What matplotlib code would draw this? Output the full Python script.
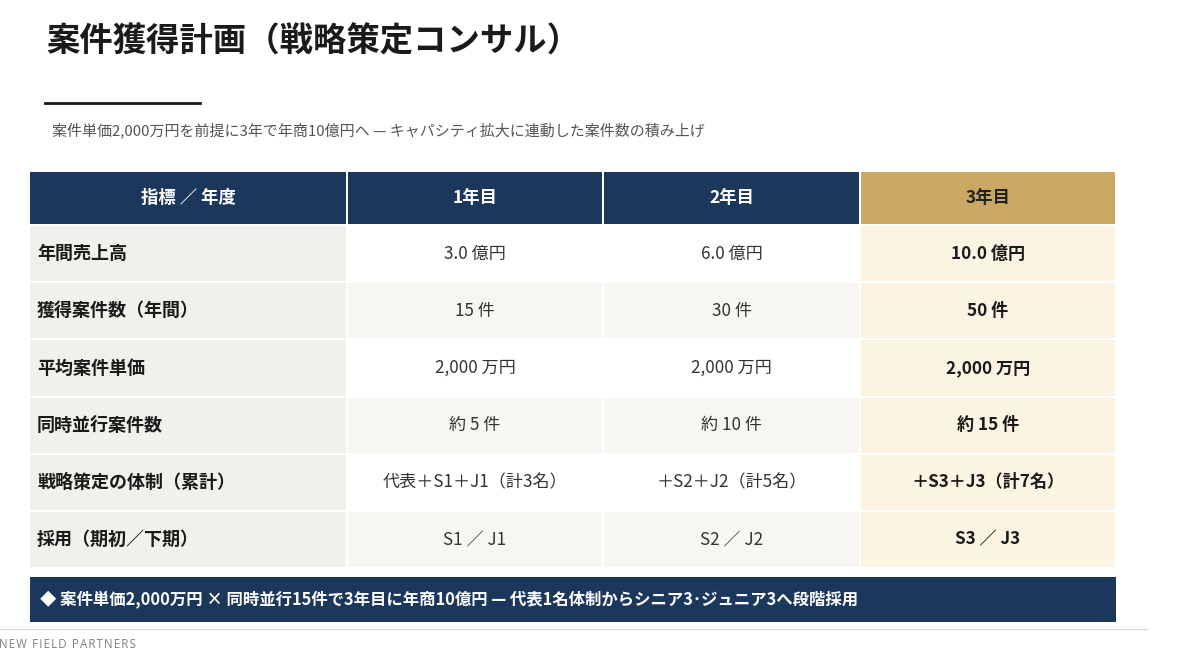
import matplotlib
matplotlib.use("Agg")
import matplotlib.pyplot as plt
from matplotlib.patches import Rectangle

plt.rcParams["font.family"] = ["Noto Sans CJK JP", "DejaVu Sans"]

# --- data ---
years = ["1年目", "2年目", "3年目"]
metrics = ["年間売上高", "獲得案件数（年間）", "平均案件単価", "同時並行案件数",
           "戦略策定の体制（累計）", "採用（期初／下期）"]
revenue_oku = [3.0, 6.0, 10.0]
deals_per_year = [15, 30, 50]
unit_price_man = [2000, 2000, 2000]
concurrent_deals = [5, 10, 15]
team = ["代表＋S1＋J1（計3名）", "＋S2＋J2（計5名）", "＋S3＋J3（計7名）"]
hiring = ["S1 ／ J1", "S2 ／ J2", "S3 ／ J3"]

rows = [
    [f"{v:.1f} 億円" for v in revenue_oku],
    [f"{v} 件" for v in deals_per_year],
    [f"{v:,} 万円" for v in unit_price_man],
    [f"約 {v} 件" for v in concurrent_deals],
    team,
    hiring,
]

title = "案件獲得計画（戦略策定コンサル）"
subtitle = "案件単価2,000万円を前提に3年で年商10億円へ — キャパシティ拡大に連動した案件数の積み上げ"
banner = "◆ 案件単価2,000万円 × 同時並行15件で3年目に年商10億円 — 代表1名体制からシニア3･ジュニア3へ段階採用"
footer = "NEW FIELD PARTNERS"

NAVY = "#1c375c"
GOLD = "#c8a862"
LABEL_BG = "#f2f0eb"
ALT_BG = "#f7f6f3"
HL_BG = "#fcf3e2"
TEXT = "#333333"

W, H = 1200, 659
fig = plt.figure(figsize=(W / 100, H / 100), dpi=100)
ax = fig.add_axes([0, 0, 1, 1])
ax.set_xlim(0, W)
ax.set_ylim(H, 0)
ax.axis("off")

# title block
ax.text(46, 42, title, fontsize=24, fontweight="bold", color="#1a1a1a", va="center", ha="left")
ax.plot([45, 200], [103, 103], color="#1a1a1a", lw=2)
ax.text(52, 130, subtitle, fontsize=10.8, color="#555555", va="center", ha="left")

# table geometry
col_edges = [30, 348, 604, 861, 1117]
gap = 2
head_top, head_bot = 172, 224
row_top = 226
row_h = 57.2

headers = ["指標 ／ 年度"] + years
for j, htxt in enumerate(headers):
    x0, x1 = col_edges[j], col_edges[j + 1]
    fc = GOLD if j == 3 else NAVY
    ax.add_patch(Rectangle((x0, head_top), x1 - x0 - gap, head_bot - head_top, fc=fc, ec="none"))
    ax.text((x0 + x1 - gap) / 2, (head_top + head_bot) / 2, htxt, fontsize=12.5, fontweight="bold",
            color="#222222" if j == 3 else "white", ha="center", va="center")

for i, (label, vals) in enumerate(zip(metrics, rows)):
    y0 = row_top + i * row_h
    hgt = row_h - gap
    yc = y0 + hgt / 2
    ax.add_patch(Rectangle((col_edges[0], y0), col_edges[1] - col_edges[0] - gap, hgt, fc=LABEL_BG, ec="none"))
    ax.text(col_edges[0] + 7, yc, label, fontsize=13, fontweight="bold", color="#1a1a1a",
            ha="left", va="center")
    for j, v in enumerate(vals):
        x0, x1 = col_edges[j + 1], col_edges[j + 2]
        if j == 2:
            fc = HL_BG
        else:
            fc = ALT_BG if i % 2 else "white"
        ax.add_patch(Rectangle((x0, y0), x1 - x0 - gap, hgt, fc=fc, ec="none"))
        ax.text((x0 + x1 - gap) / 2, yc, v, fontsize=12.3,
                fontweight="bold" if j == 2 else "normal",
                color="#1a1a1a" if j == 2 else TEXT, ha="center", va="center")

# bottom banner
ax.add_patch(Rectangle((30, 577), 1086, 45, fc=NAVY, ec="none"))
ax.text(40, 600, banner, fontsize=11.8, fontweight="bold", color="white", ha="left", va="center")

# footer
ax.plot([0, 1147], [628.5, 628.5], color="#dddddd", lw=1)
ax.text(-1, 645, "\u200a".join(footer), fontsize=8.3, color="#808080", ha="left", va="center",
        family=["Open Sans", "DejaVu Sans"])

fig.savefig("out.png", dpi=100)
